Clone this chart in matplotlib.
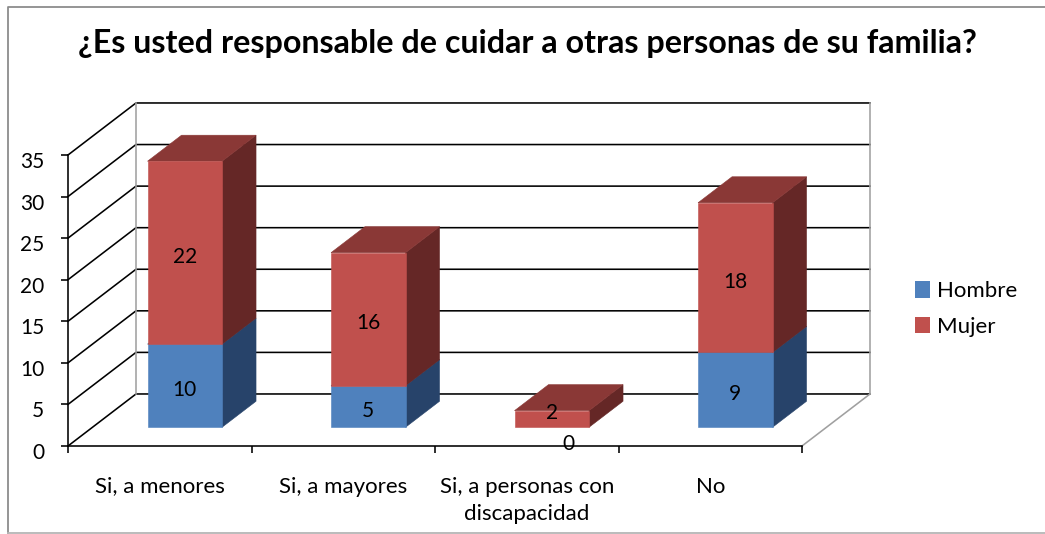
import matplotlib
matplotlib.use('Agg')
import matplotlib.pyplot as plt
from matplotlib.lines import Line2D
from matplotlib.patches import Patch, Polygon
from matplotlib.transforms import ScaledTranslation

plt.rcParams['font.family'] = ['Lato', 'DejaVu Sans']

title = '¿Es usted responsable de cuidar a otras personas de su familia?'
categories = ['Si, a menores', 'Si, a mayores', 'Si, a personas con\ndiscapacidad', 'No']
hombre = [10, 5, 0, 9]
mujer = [22, 16, 2, 18]
y_ticks = [0, 5, 10, 15, 20, 25, 30, 35]

W, H = 1045, 534
BLUE = ('#4f81bd', '#27436a', '#34557f')
RED = ('#c0504d', '#652726', '#8a3836')
FRAME = '#8c8c8c'
LW = 1.15

# depth of the 3d box, in axis units (one category wide, one value high)
DEPTH_X = 68 / 183.5
DEPTH_Y = 52 / 8.31
BAR_W = 0.406
BAR_D0, BAR_D1 = 0.36, 0.86


def proj(x, v, d):
    """Front plane position of category x, value v, at depth d (0 to 1)."""
    return x + d * DEPTH_X, v + d * DEPTH_Y


def draw_box(ax, i, v0, v1, colors):
    x0, x1 = i + 0.503 - BAR_W / 2, i + 0.503 + BAR_W / 2
    faces = [
        ([proj(x1, v0, BAR_D0), proj(x1, v0, BAR_D1), proj(x1, v1, BAR_D1), proj(x1, v1, BAR_D0)], colors[1]),
        ([proj(x0, v1, BAR_D0), proj(x1, v1, BAR_D0), proj(x1, v1, BAR_D1), proj(x0, v1, BAR_D1)], colors[2]),
        ([proj(x0, v0, BAR_D0), proj(x1, v0, BAR_D0), proj(x1, v1, BAR_D0), proj(x0, v1, BAR_D0)], colors[0]),
    ]
    for pts, c in faces:
        ax.add_patch(Polygon(pts, closed=True, facecolor=c, edgecolor=c, linewidth=0.4, zorder=3, clip_on=False))


def wall_line(ax, pts, color='black'):
    xs, ys = zip(*pts)
    ax.add_line(Line2D(xs, ys, color=color, linewidth=LW, zorder=1, clip_on=False))


def bar_label(ax, value, pos, offset):
    ax.annotate(str(value), pos, xytext=offset, textcoords='offset points', ha='center', va='center',
                fontsize=15, zorder=5, annotation_clip=False)


fig = plt.figure(figsize=(W / 100, H / 100), dpi=100)
ax = fig.add_axes([68 / W, (H - 446) / H, 734 / W, 291 / H])
ax.set_xlim(0, 4)
ax.set_ylim(0, 35)
ax.patch.set_alpha(0)

# outer frame of the chart
fig.add_artist(Line2D([8 / W, 8 / W, 1], [1 - 533 / H, 1 - 7 / H, 1 - 7 / H], color=FRAME, linewidth=1.3))
fig.add_artist(Line2D([8 / W, 1], [1 - 533 / H, 1 - 533 / H], color='#b5b5b5', linewidth=1.3))

# gridlines on the side wall and the back wall
for v in y_ticks:
    wall_line(ax, [proj(0, v, 0), proj(0, v, 1), proj(4, v, 1)])
wall_line(ax, [proj(0, 0, 1), proj(0, 35, 1)], color='#a0a0a0')
wall_line(ax, [proj(4, 0, 1), proj(4, 35, 1)], color='#a0a0a0')
wall_line(ax, [proj(4, 0, 0), proj(4, 0, 1)], color='#a0a0a0')

for i in range(len(categories)):
    if hombre[i] > 0:
        draw_box(ax, i, 0, hombre[i], BLUE)
    draw_box(ax, i, hombre[i], hombre[i] + mujer[i], RED)

for i in range(len(categories)):
    x = i + 0.503
    if hombre[i] > 0:
        bar_label(ax, hombre[i], proj(x, hombre[i] / 2, BAR_D0), (0, -3))
    else:
        bar_label(ax, hombre[i], proj(x, 0, BAR_D0), (12, -12))
    # the label of a very thin bar sits higher on it
    bar_label(ax, mujer[i], proj(x, hombre[i] + mujer[i] / 2, BAR_D0), (0, -3) if mujer[i] > 5 else (0, 4))

for side in ['top', 'right']:
    ax.spines[side].set_visible(False)
for side in ['left', 'bottom']:
    ax.spines[side].set_linewidth(LW)

ax.set_yticks(y_ticks)
ax.set_xticks(range(len(categories) + 1))
ax.set_xticklabels([])
ax.set_xticks([i + 0.5 for i in range(len(categories))], minor=True)
ax.set_xticklabels(categories, minor=True, fontsize=16, linespacing=1.49)
ax.tick_params(axis='x', which='major', length=5, width=LW, direction='out')
ax.tick_params(axis='x', which='minor', length=0, pad=22)
ax.tick_params(axis='y', length=5, width=LW, direction='out', labelsize=15, pad=12)
shift = ScaledTranslation(0, -5 / 100, fig.dpi_scale_trans)
for lab in ax.get_yticklabels():
    lab.set_transform(lab.get_transform() + shift)

fig.text(527 / W, 1 - 44 / H, title, ha='center', va='center', fontsize=23.2, fontweight='bold')

fig.legend(handles=[Patch(facecolor=BLUE[0], label='Hombre'), Patch(facecolor=RED[0], label='Mujer')],
           loc='center left', bbox_to_anchor=(915 / W, 1 - 309 / H), frameon=False, fontsize=16,
           handlelength=0.68, handleheight=0.75, handletextpad=0.32, labelspacing=0.7,
           borderpad=0, borderaxespad=0)

fig.savefig('out.png', dpi=100)
